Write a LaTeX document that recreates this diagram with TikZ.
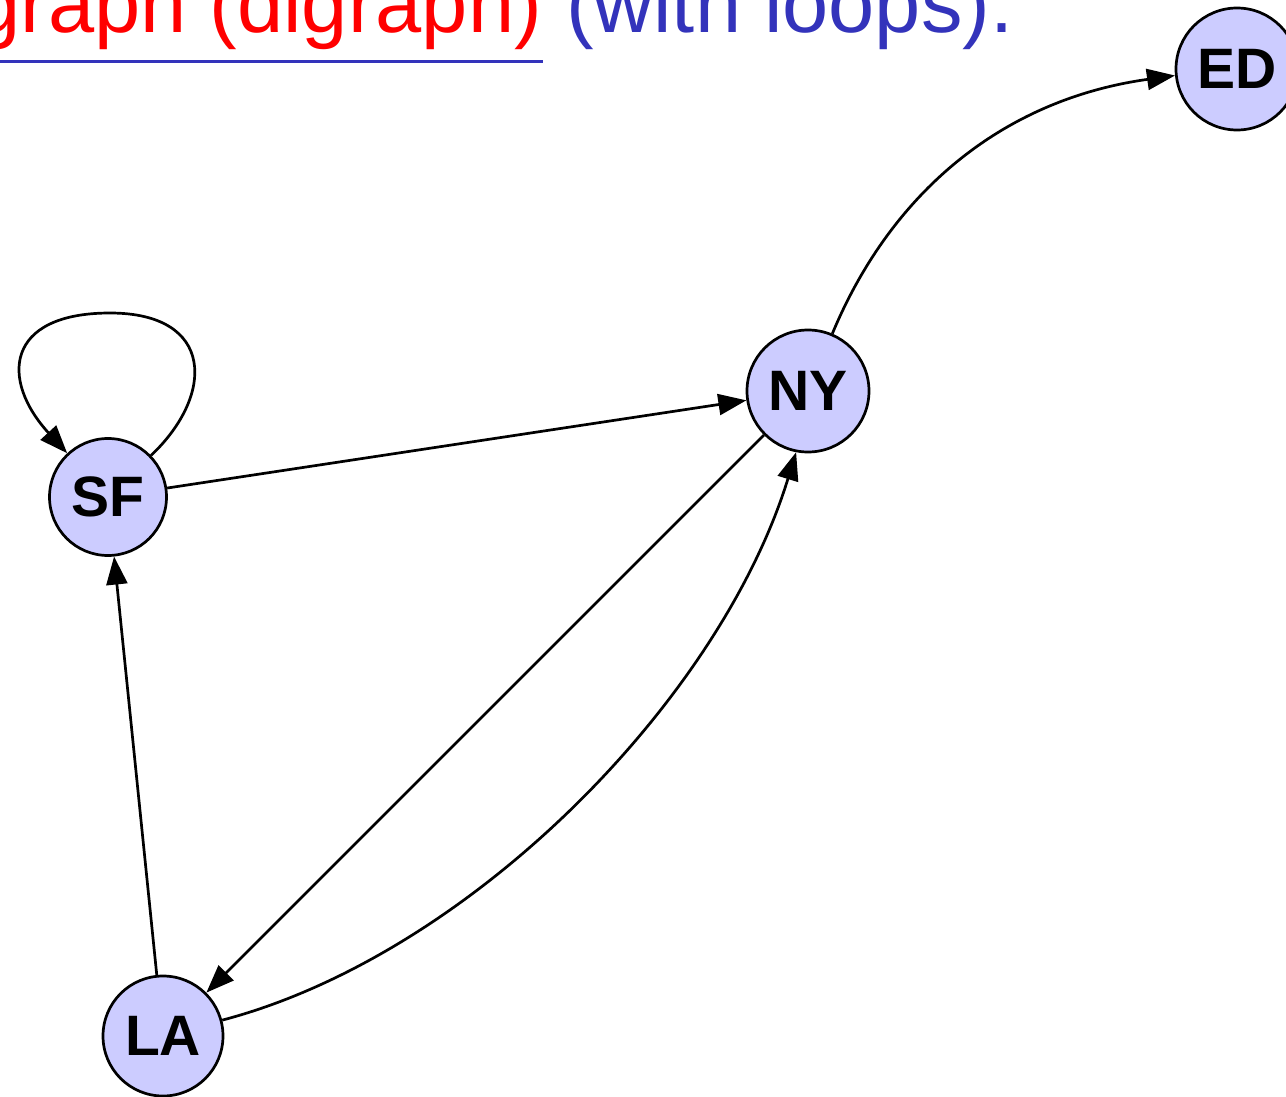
\documentclass[tikz,border=0pt]{standalone}
\usepackage{fontspec}
\setmainfont{Liberation Sans}
\usetikzlibrary{arrows.meta}
\definecolor{nodefill}{HTML}{CCCCFF}
\definecolor{titleblue}{HTML}{3333BB}
\definecolor{titlered}{HTML}{FF0000}
\begin{document}
\begin{tikzpicture}[x=1pt,y=-1pt,
  city/.style={circle,draw=black,line width=2.7pt,fill=nodefill,minimum size=#1,inner sep=0pt,font=\fontsize{57}{60}\selectfont\bfseries},
  arc/.style={line width=2.7pt,-{Triangle[length=28pt,width=21pt]}},
  title/.style={inner sep=0pt,outer sep=0pt,font=\fontsize{83}{90}\selectfont}]
\useasboundingbox (0,0) rectangle (1286,1097);
\begin{scope}
\clip (0,0) rectangle (1286,1097);
\node[title,anchor=base east,text=titlered] (t1) at (542,33) {graph (digraph)};
\node[title,anchor=base west,text=titleblue] (t2) at (566,33) {(with loops).};
\draw[titleblue,line width=3pt] (0,62) -- (543,62);
\node[city=117pt] (SF) at (108,497) {SF};
\node[city=122pt] (NY) at (808,391) {NY};
\node[city=120pt] (LA) at (163,1036) {LA};
\node[city=122pt] (ED) at (1237,69) {ED};
\draw[arc] (SF.44) .. controls (215,395) and (215,313) .. (110,313) .. controls (5,313) and (0,380) .. (SF.133);
\draw[arc] (SF) -- (NY);
\draw[arc] (NY) -- (LA);
\draw[arc] (LA) -- (SF);
\draw[arc] (LA.15) .. controls (470,955) and (720,700) .. (NY.259);
\draw[arc] (NY.67) .. controls (890,195) and (1000,100) .. (ED.186);
\end{scope}
\end{tikzpicture}
\end{document}
